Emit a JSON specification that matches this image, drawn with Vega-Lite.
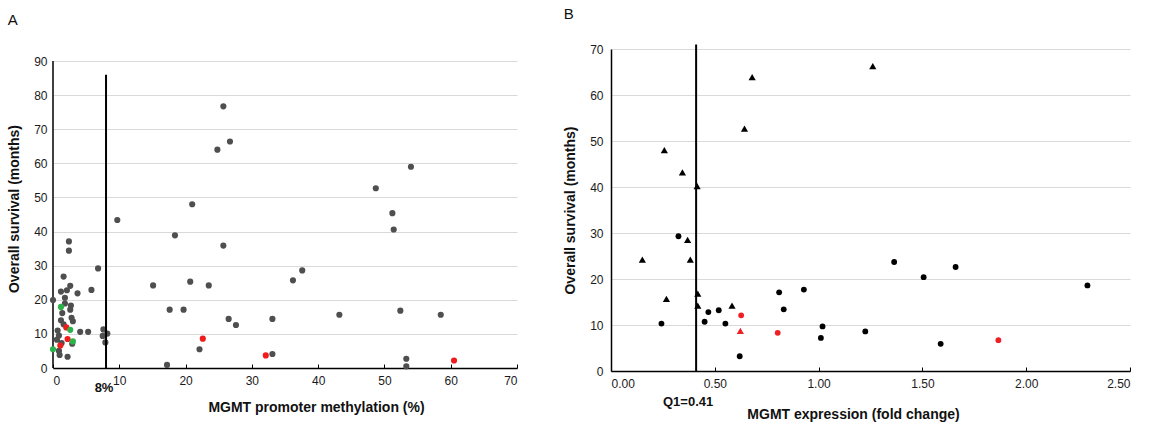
{
  "$schema": "https://vega.github.io/schema/vega-lite/v6.json",
  "background": "white",
  "padding": {"left": 7, "top": 7, "right": 5, "bottom": 2},
  "resolve": {"scale": {"color": "independent", "shape": "independent", "size": "independent"}},
  "config": {
    "view": {"stroke": null},
    "font": "Liberation Sans",
    "axis": {
      "labelFont": "Liberation Sans",
      "labelFontSize": 12,
      "labelColor": "#1a1a1a",
      "labelOverlap": false,
      "titleFont": "Liberation Sans",
      "titleFontSize": 14,
      "titleFontWeight": "bold",
      "titleColor": "#111111",
      "domainColor": "#000000",
      "domainWidth": 1.5,
      "tickColor": "#000000",
      "gridColor": "#d9d9d9",
      "gridWidth": 1.2
    },
    "title": {"anchor": "start", "frame": "bounds", "fontSize": 15, "fontWeight": "normal", "font": "Liberation Sans", "color": "#111111"},
    "concat": {"spacing": 45}
  },
  "datasets": {
    "methylation": [
      {"methylation": 25.7, "survival": 76.7, "group": "grey"},
      {"methylation": 26.7, "survival": 66.4, "group": "grey"},
      {"methylation": 24.8, "survival": 64.0, "group": "grey"},
      {"methylation": 21.0, "survival": 48.0, "group": "grey"},
      {"methylation": 18.4, "survival": 38.9, "group": "grey"},
      {"methylation": 25.7, "survival": 35.9, "group": "grey"},
      {"methylation": 37.6, "survival": 28.6, "group": "grey"},
      {"methylation": 36.2, "survival": 25.7, "group": "grey"},
      {"methylation": 15.1, "survival": 24.2, "group": "grey"},
      {"methylation": 20.7, "survival": 25.3, "group": "grey"},
      {"methylation": 23.5, "survival": 24.2, "group": "grey"},
      {"methylation": 17.6, "survival": 17.1, "group": "grey"},
      {"methylation": 19.7, "survival": 17.1, "group": "grey"},
      {"methylation": 26.5, "survival": 14.4, "group": "grey"},
      {"methylation": 27.6, "survival": 12.6, "group": "grey"},
      {"methylation": 33.1, "survival": 14.4, "group": "grey"},
      {"methylation": 22.1, "survival": 5.5, "group": "grey"},
      {"methylation": 33.1, "survival": 4.1, "group": "grey"},
      {"methylation": 17.2, "survival": 0.9, "group": "grey"},
      {"methylation": 54.0, "survival": 59.0, "group": "grey"},
      {"methylation": 48.7, "survival": 52.7, "group": "grey"},
      {"methylation": 51.2, "survival": 45.4, "group": "grey"},
      {"methylation": 51.4, "survival": 40.6, "group": "grey"},
      {"methylation": 43.2, "survival": 15.6, "group": "grey"},
      {"methylation": 52.4, "survival": 16.8, "group": "grey"},
      {"methylation": 58.5, "survival": 15.6, "group": "grey"},
      {"methylation": 53.3, "survival": 2.7, "group": "grey"},
      {"methylation": 53.3, "survival": 0.5, "group": "grey"},
      {"methylation": 9.7, "survival": 43.4, "group": "grey"},
      {"methylation": 2.4, "survival": 37.1, "group": "grey"},
      {"methylation": 2.4, "survival": 34.4, "group": "grey"},
      {"methylation": 6.8, "survival": 29.2, "group": "grey"},
      {"methylation": 1.6, "survival": 26.8, "group": "grey"},
      {"methylation": 5.8, "survival": 22.9, "group": "grey"},
      {"methylation": 2.6, "survival": 24.1, "group": "grey"},
      {"methylation": 2.1, "survival": 22.8, "group": "grey"},
      {"methylation": 1.2, "survival": 22.4, "group": "grey"},
      {"methylation": 3.7, "survival": 21.9, "group": "grey"},
      {"methylation": 0.0, "survival": 19.9, "group": "grey"},
      {"methylation": 1.8, "survival": 20.6, "group": "grey"},
      {"methylation": 1.8, "survival": 18.9, "group": "grey"},
      {"methylation": 2.7, "survival": 18.3, "group": "grey"},
      {"methylation": 2.6, "survival": 17.1, "group": "grey"},
      {"methylation": 1.4, "survival": 16.1, "group": "grey"},
      {"methylation": 2.8, "survival": 14.7, "group": "grey"},
      {"methylation": 1.2, "survival": 14.0, "group": "grey"},
      {"methylation": 1.6, "survival": 12.8, "group": "grey"},
      {"methylation": 3.0, "survival": 13.7, "group": "grey"},
      {"methylation": 0.7, "survival": 11.0, "group": "grey"},
      {"methylation": 4.1, "survival": 10.6, "group": "grey"},
      {"methylation": 5.3, "survival": 10.6, "group": "grey"},
      {"methylation": 7.6, "survival": 11.3, "group": "grey"},
      {"methylation": 8.2, "survival": 10.1, "group": "grey"},
      {"methylation": 7.5, "survival": 9.4, "group": "grey"},
      {"methylation": 7.9, "survival": 7.5, "group": "grey"},
      {"methylation": 0.9, "survival": 9.5, "group": "grey"},
      {"methylation": 2.9, "survival": 7.1, "group": "grey"},
      {"methylation": 1.3, "survival": 7.3, "group": "grey"},
      {"methylation": 0.6, "survival": 8.3, "group": "grey"},
      {"methylation": 0.9, "survival": 5.0, "group": "grey"},
      {"methylation": 1.0, "survival": 3.8, "group": "grey"},
      {"methylation": 2.2, "survival": 3.3, "group": "grey"},
      {"methylation": 22.6, "survival": 8.6, "group": "red"},
      {"methylation": 32.1, "survival": 3.7, "group": "red"},
      {"methylation": 60.5, "survival": 2.2, "group": "red"},
      {"methylation": 2.0, "survival": 11.9, "group": "red"},
      {"methylation": 2.2, "survival": 8.5, "group": "red"},
      {"methylation": 1.1, "survival": 6.6, "group": "red"},
      {"methylation": 1.2, "survival": 17.9, "group": "green"},
      {"methylation": 2.6, "survival": 11.2, "group": "green"},
      {"methylation": 3.0, "survival": 7.8, "group": "green"},
      {"methylation": 0.0, "survival": 5.5, "group": "green"}
    ],
    "expression": [
      {"expression": 0.680, "survival": 63.9, "marker": "triangle", "group": "black"},
      {"expression": 0.643, "survival": 52.7, "marker": "triangle", "group": "black"},
      {"expression": 0.257, "survival": 48.0, "marker": "triangle", "group": "black"},
      {"expression": 0.344, "survival": 43.2, "marker": "triangle", "group": "black"},
      {"expression": 0.415, "survival": 40.2, "marker": "triangle", "group": "black"},
      {"expression": 0.369, "survival": 28.5, "marker": "triangle", "group": "black"},
      {"expression": 0.151, "survival": 24.2, "marker": "triangle", "group": "black"},
      {"expression": 0.382, "survival": 24.2, "marker": "triangle", "group": "black"},
      {"expression": 0.267, "survival": 15.7, "marker": "triangle", "group": "black"},
      {"expression": 0.418, "survival": 16.8, "marker": "triangle", "group": "black"},
      {"expression": 0.418, "survival": 14.2, "marker": "triangle", "group": "black"},
      {"expression": 0.583, "survival": 14.2, "marker": "triangle", "group": "black"},
      {"expression": 1.261, "survival": 66.3, "marker": "triangle", "group": "black"},
      {"expression": 0.623, "survival": 8.7, "marker": "triangle", "group": "red"},
      {"expression": 0.325, "survival": 29.3, "marker": "circle", "group": "black"},
      {"expression": 0.243, "survival": 10.3, "marker": "circle", "group": "black"},
      {"expression": 0.451, "survival": 10.7, "marker": "circle", "group": "black"},
      {"expression": 0.469, "survival": 12.8, "marker": "circle", "group": "black"},
      {"expression": 0.519, "survival": 13.2, "marker": "circle", "group": "black"},
      {"expression": 0.551, "survival": 10.3, "marker": "circle", "group": "black"},
      {"expression": 0.620, "survival": 3.2, "marker": "circle", "group": "black"},
      {"expression": 0.810, "survival": 17.1, "marker": "circle", "group": "black"},
      {"expression": 0.832, "survival": 13.4, "marker": "circle", "group": "black"},
      {"expression": 0.929, "survival": 17.7, "marker": "circle", "group": "black"},
      {"expression": 1.019, "survival": 9.7, "marker": "circle", "group": "black"},
      {"expression": 1.011, "survival": 7.2, "marker": "circle", "group": "black"},
      {"expression": 1.225, "survival": 8.6, "marker": "circle", "group": "black"},
      {"expression": 1.364, "survival": 23.7, "marker": "circle", "group": "black"},
      {"expression": 1.506, "survival": 20.4, "marker": "circle", "group": "black"},
      {"expression": 1.660, "survival": 22.6, "marker": "circle", "group": "black"},
      {"expression": 1.588, "survival": 5.9, "marker": "circle", "group": "black"},
      {"expression": 2.295, "survival": 18.6, "marker": "circle", "group": "black"},
      {"expression": 0.627, "survival": 12.1, "marker": "circle", "group": "red"},
      {"expression": 0.803, "survival": 8.3, "marker": "circle", "group": "red"},
      {"expression": 1.866, "survival": 6.7, "marker": "circle", "group": "red"}
    ]
  },
  "hconcat": [
    {
      "title": {"text": "A", "offset": 21},
      "width": 464,
      "height": 319,
      "encoding": {
        "x": {"field": "methylation", "type": "quantitative",
          "scale": {"domain": [0, 70], "nice": false},
          "axis": {"values": [0, 10, 20, 30, 40, 50, 60, 70], "grid": false, "tickSize": -4, "labelPadding": 11,
            "title": "MGMT promoter methylation (%)", "titlePadding": 14, "titleX": 263}},
        "y": {"field": "survival", "type": "quantitative",
          "scale": {"domain": [0, 93.52], "nice": false},
          "axis": {"values": [0, 10, 20, 30, 40, 50, 60, 70, 80, 90], "grid": true, "ticks": false, "domain": false, "labelPadding": 6,
            "title": "Overall survival (months)", "titlePadding": 12}}
      },
      "layer": [
        {
          "data": {"values": [{"methylation": 0, "survival": 0, "top": 90}]},
          "mark": {"type": "rule", "color": "#000000", "strokeWidth": 1.5},
          "encoding": {"y2": {"field": "top"}}
        },
        {
          "data": {"name": "methylation"},
          "mark": {"type": "circle", "size": 38, "opacity": 1},
          "encoding": {
            "color": {"field": "group", "type": "nominal",
              "scale": {"domain": ["grey", "red", "green"], "range": ["#4f4f4f", "#f01c1c", "#2bb34a"]},
              "legend": null}
          }
        },
        {
          "data": {"values": [{"methylation": 8, "survival": 0, "top": 86}]},
          "mark": {"type": "rule", "color": "#000000", "strokeWidth": 2},
          "encoding": {"y2": {"field": "top"}}
        },
        {
          "data": {"values": [{"methylation": 8, "survival": 0, "label": "8%"}]},
          "mark": {"type": "text", "fontWeight": "bold", "fontSize": 13, "dy": 20, "dx": -2, "color": "#111111"},
          "encoding": {"text": {"field": "label", "type": "nominal"}}
        }
      ]
    },
    {
      "title": {"text": "B", "offset": 21},
      "width": 519,
      "height": 322,
      "encoding": {
        "x": {"field": "expression", "type": "quantitative",
          "scale": {"domain": [0, 2.5], "nice": false},
          "axis": {"values": [0, 0.5, 1, 1.5, 2, 2.5], "format": ".2f", "grid": false, "tickSize": -4, "labelPadding": 11,
            "title": "MGMT expression (fold change)", "titlePadding": 18, "titleX": 242}},
        "y": {"field": "survival", "type": "quantitative",
          "scale": {"domain": [0, 70], "nice": false},
          "axis": {"values": [0, 10, 20, 30, 40, 50, 60, 70], "grid": true, "ticks": false, "labelPadding": 8,
            "title": "Overall survival (months)", "titlePadding": 12}}
      },
      "layer": [
        {
          "data": {"name": "expression"},
          "mark": {"type": "point", "filled": true, "opacity": 1, "strokeWidth": 0},
          "encoding": {
            "shape": {"field": "marker", "type": "nominal",
              "scale": {"domain": ["circle", "triangle"], "range": ["circle", "triangle-up"]},
              "legend": null},
            "size": {"field": "marker", "type": "nominal",
              "scale": {"domain": ["circle", "triangle"], "range": [34, 52]},
              "legend": null},
            "color": {"field": "group", "type": "nominal",
              "scale": {"domain": ["black", "red"], "range": ["#000000", "#ee2026"]},
              "legend": null}
          }
        },
        {
          "data": {"values": [{"expression": 0.41, "survival": 0, "top": 71}]},
          "mark": {"type": "rule", "color": "#000000", "strokeWidth": 2},
          "encoding": {"y2": {"field": "top"}}
        },
        {
          "data": {"values": [{"expression": 0.41, "survival": 0, "label": "Q1=0.41"}]},
          "mark": {"type": "text", "fontWeight": "bold", "fontSize": 13, "dy": 31, "dx": -8, "color": "#111111"},
          "encoding": {"text": {"field": "label", "type": "nominal"}}
        }
      ]
    }
  ]
}
